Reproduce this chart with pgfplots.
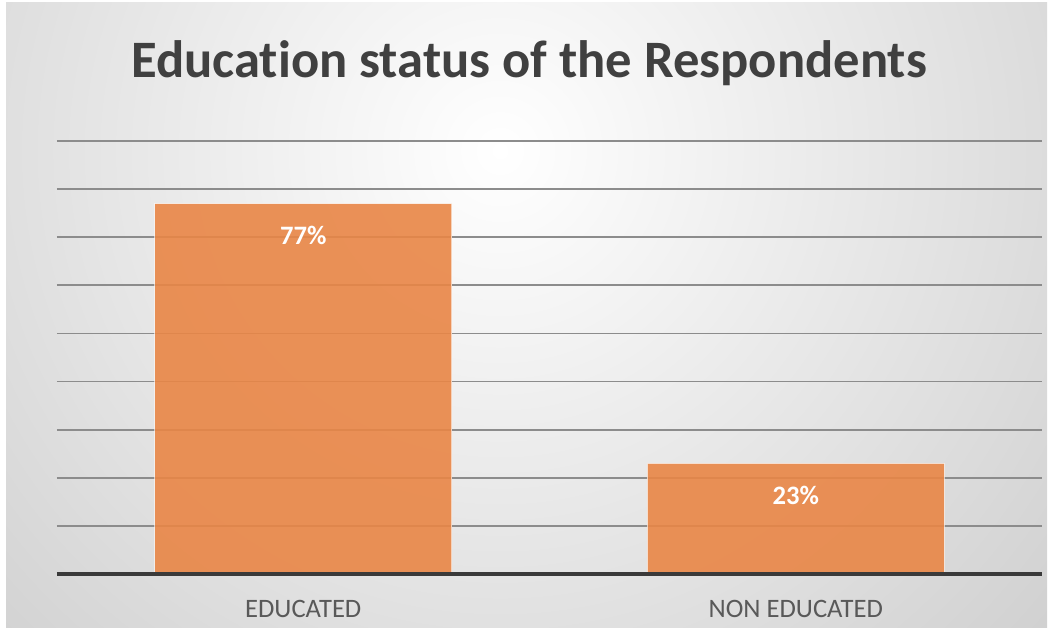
\documentclass[border=0pt]{standalone}
\usepackage{pgfplots}
\pgfplotsset{compat=1.18}
\usepackage{fontspec}
\setmainfont{Carlito}[Ligatures=NoCommon]
\definecolor{barorange}{RGB}{233,134,70}
\definecolor{titlegray}{RGB}{64,64,64}
\definecolor{labelgray}{RGB}{89,89,89}
\definecolor{gridgray}{RGB}{140,140,140}
\definecolor{axisdark}{RGB}{58,58,58}
\begin{document}
\begin{tikzpicture}
\useasboundingbox (0pt,0pt) rectangle (524pt,313.5pt);
\begin{scope}
\clip (3pt,0pt) rectangle (523.5pt,312pt);
\shade[inner color=white, outer color=gray!50] (-250pt,-262pt) rectangle (750pt,738pt);
\end{scope}
\begin{axis}[
  at={(28.5pt,26.5pt)}, anchor=south west,
  scale only axis, width=492.5pt, height=216.5pt,
  xmin=-0.5, xmax=1.5, ymin=0, ymax=90,
  ybar, bar width=148.5pt,
  xtick={0,1}, xticklabels={EDUCATED, NON EDUCATED},
  ytick={10,20,30,40,50,60,70,80,90}, yticklabels={},
  major tick length=0pt,
  ymajorgrids, major grid style={gridgray, line width=0.9pt},
  axis line style={draw=none},
  /pgf/number format/assume math mode=true,
  xticklabel style={font=\fontsize{13.3}{15}\selectfont, text=labelgray, anchor=base, yshift=-21.5pt},
  nodes near coords={\pgfmathprintnumber{\pgfplotspointmeta}\%},
  every node near coord/.append style={font=\bfseries\fontsize{13.3}{15}\selectfont, text=white, anchor=base, yshift=-20.5pt},
  clip=false,
]
\addplot[fill=barorange, fill opacity=0.9, text opacity=1, draw=white, draw opacity=0.6, line width=0.5pt] coordinates {(0,77) (1,23)};
\draw[axisdark, line width=1.8pt] (rel axis cs:0,0) -- (rel axis cs:1,0);
\end{axis}
\node[anchor=base, font=\bfseries\fontsize{26.3}{30}\selectfont, text=titlegray] at (264.5pt,274.5pt) {Education status of the Respondents};
\end{tikzpicture}
\end{document}
